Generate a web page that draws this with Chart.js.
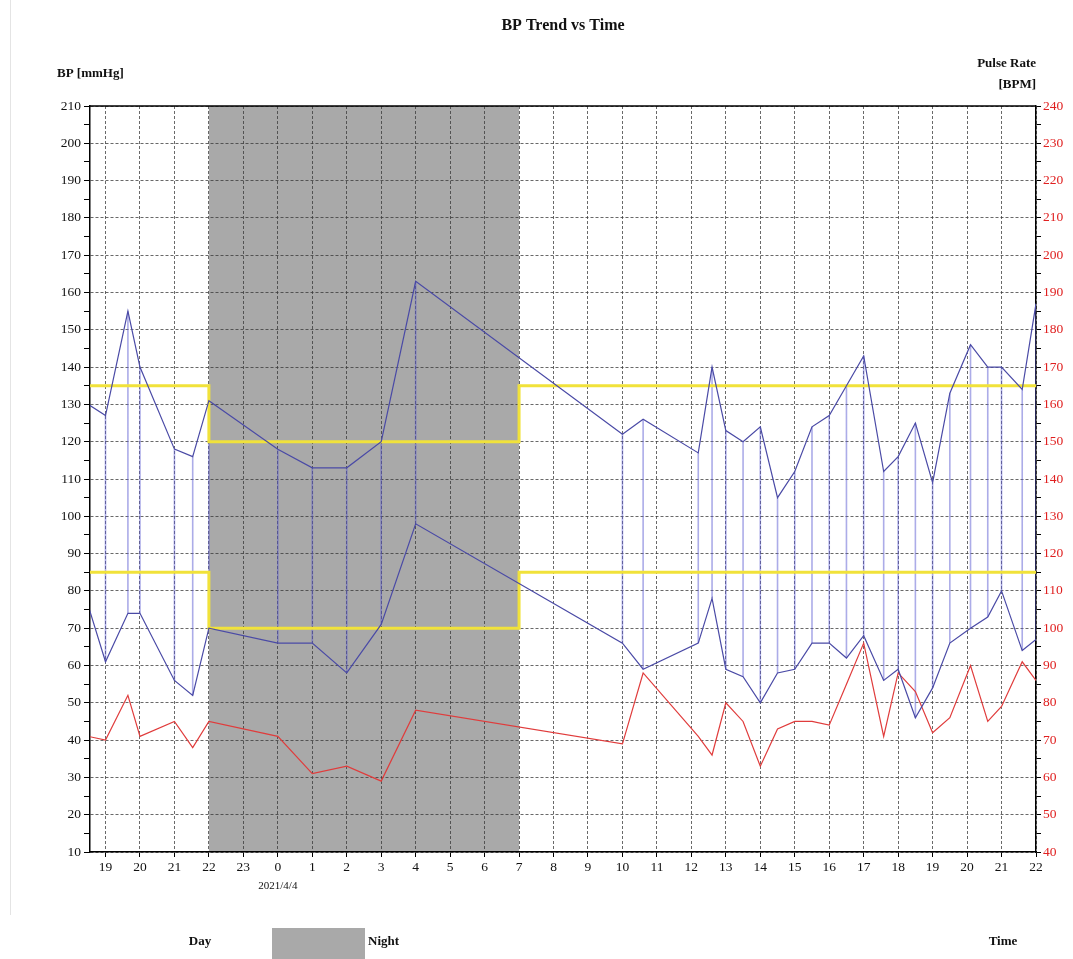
<!DOCTYPE html>
<html>
<head>
<meta charset="utf-8">
<title>BP Trend vs Time</title>
<script src="https://cdn.jsdelivr.net/npm/chart.js@4.4.1/dist/chart.umd.min.js"></script>
<style>
body { margin: 0; background: #fff; }
#wrap { position: relative; width: 1073px; height: 959px; }
#edge { position: absolute; left: 10px; top: 0; height: 915px; border-left: 1px solid #e4e4e4; }
</style>
</head>
<body>
<div id="wrap">
<div id="edge"></div>
<canvas id="bpChart" width="1073" height="959"></canvas>
</div>
<script>
// measurement times in hours from midnight of the first day (24 = 0:00 of 2021/4/4)
const times     = [18.5, 19, 19.65, 20, 21, 21.53, 22, 24, 25, 26, 27, 28, 34, 34.6, 36.2, 36.6, 37, 37.5, 38, 38.5, 39, 39.5, 40, 40.5, 41, 41.58, 42, 42.5, 43, 43.5, 44.1, 44.6, 45, 45.6, 46];
const systolic  = [130, 127, 155, 140, 118, 116, 131, 118, 113, 113, 120, 163, 122, 126, 117, 140, 123, 120, 124, 105, 112, 124, 127, 135, 143, 112, 116, 125, 109, 133, 146, 140, 140, 134, 157];
const diastolic = [76, 61, 74, 74, 56, 52, 70, 66, 66, 58, 71, 98, 66, 59, 66, 78, 59, 57, 50, 58, 59, 66, 66, 62, 68, 56, 59, 46, 54, 66, 70, 73, 80, 64, 67];
const pulse     = [71, 70, 82, 71, 75, 68, 75, 71, 61, 63, 59, 78, 69, 88, 71, 66, 80, 75, 63, 73, 75, 75, 74, 85, 96, 71, 88, 83, 72, 76, 90, 75, 79, 91, 86];

// target limits: day 135/85, night 120/70
const limitTimes = [18.5, 22, 22, 31, 31, 46];
const limitHigh  = [135, 135, 120, 120, 135, 135];
const limitLow   = [85, 85, 70, 70, 85, 85];
const nightStart = 22;
const nightEnd = 31;

const hourTicks = [19, 20, 21, 22, 23, 24, 25, 26, 27, 28, 29, 30, 31, 32, 33, 34, 35, 36, 37, 38, 39, 40, 41, 42, 43, 44, 45, 46];

const serif = '"Liberation Serif", "Times New Roman", serif';
const gridColor = 'rgba(55,55,55,0.75)';
const blue = '#4a4aa6';

const pts = (ys) => times.map((t, i) => ({ x: t, y: ys[i] }));
const limitPts = (ys) => limitTimes.map((t, i) => ({ x: t, y: ys[i] }));

// vertical bars joining each systolic / diastolic pair
const connectors = [];
times.forEach((t, i) => {
	connectors.push({ x: t, y: diastolic[i] }, { x: t, y: systolic[i] }, { x: t, y: null });
});

const nightBand = {
	id: 'nightBand',
	beforeDraw(chart) {
		const { ctx, chartArea, scales } = chart;
		const x0 = scales.x.getPixelForValue(nightStart);
		const x1 = scales.x.getPixelForValue(nightEnd);
		ctx.save();
		ctx.fillStyle = '#a9a9a9';
		ctx.fillRect(x0, chartArea.top, x1 - x0, chartArea.bottom - chartArea.top);
		ctx.restore();
	},
	afterDraw(chart) {
		const { ctx, chartArea, scales } = chart;
		ctx.save();
		ctx.strokeStyle = '#000';
		ctx.lineWidth = 1.5;
		ctx.beginPath();
		ctx.moveTo(chartArea.left, chartArea.top);
		ctx.lineTo(chartArea.right, chartArea.top);
		ctx.stroke();

		ctx.fillStyle = '#111';
		ctx.textBaseline = 'middle';
		ctx.font = 'bold 16px ' + serif;
		ctx.textAlign = 'center';
		ctx.fillText('BP Trend vs Time', (chartArea.left + chartArea.right) / 2, 26);

		ctx.font = 'bold 13px ' + serif;
		ctx.textAlign = 'left';
		ctx.fillText('BP [mmHg]', 57, 74);
		ctx.textAlign = 'right';
		ctx.fillText('Pulse Rate', 1036, 64);
		ctx.fillText('[BPM]', 1036, 85);

		ctx.font = '11px ' + serif;
		ctx.textAlign = 'center';
		ctx.fillText('2021/4/4', scales.x.getPixelForValue(24), 886);

		// legend
		ctx.font = 'bold 13px ' + serif;
		ctx.textAlign = 'center';
		ctx.fillText('Day', 200, 942);
		ctx.fillText('Time', 1003, 942);
		ctx.textAlign = 'left';
		ctx.fillText('Night', 368, 942);
		ctx.fillStyle = '#a9a9a9';
		ctx.fillRect(272, 928, 93, 31);
		ctx.restore();
	}
};

const ctx = document.getElementById('bpChart').getContext('2d');

new Chart(ctx, {
	type: 'line',
	data: {
		datasets: [
			{
				label: 'Systolic',
				data: pts(systolic),
				borderColor: blue,
				borderWidth: 1.2,
				pointRadius: 0,
				yAxisID: 'y',
				order: 1
			},
			{
				label: 'Diastolic',
				data: pts(diastolic),
				borderColor: blue,
				borderWidth: 1.2,
				pointRadius: 0,
				yAxisID: 'y',
				order: 1
			},
			{
				label: 'Pulse',
				data: pts(pulse),
				borderColor: '#e03c3c',
				borderWidth: 1.2,
				pointRadius: 0,
				yAxisID: 'y1',
				order: 2
			},
			{
				label: 'Limit high',
				data: limitPts(limitHigh),
				borderColor: '#f1e23a',
				borderWidth: 3,
				pointRadius: 0,
				yAxisID: 'y',
				order: 3
			},
			{
				label: 'Limit low',
				data: limitPts(limitLow),
				borderColor: '#f1e23a',
				borderWidth: 3,
				pointRadius: 0,
				yAxisID: 'y',
				order: 3
			},
			{
				label: 'Range',
				data: connectors,
				borderColor: 'rgba(90,90,210,0.5)',
				borderWidth: 1.6,
				pointRadius: 0,
				spanGaps: false,
				yAxisID: 'y',
				order: 4
			}
		]
	},
	options: {
		responsive: false,
		animation: false,
		layout: { padding: { top: 106, left: 0, right: 0, bottom: 67 } },
		plugins: {
			legend: { display: false },
			title: { display: false },
			tooltip: { enabled: false }
		},
		scales: {
			x: {
				type: 'linear',
				min: 18.55,
				max: 46,
				afterBuildTicks: (axis) => { axis.ticks = hourTicks.map(v => ({ value: v })); },
				afterFit: (axis) => { axis.height = 40; },
				ticks: {
					autoSkip: false,
					maxRotation: 0,
					color: '#111',
					padding: 2,
					font: { family: serif, size: 13.5 },
					callback: (v) => String(v % 24)
				},
				grid: { color: gridColor, tickColor: '#000', tickLength: 5 },
				border: { color: '#000', width: 1.5, dash: [3, 2] }
			},
			y: {
				position: 'left',
				min: 10,
				max: 210,
				afterFit: (axis) => { axis.width = 90; },
				ticks: {
					stepSize: 5,
					autoSkip: false,
					color: '#111',
					padding: 3,
					font: { family: serif, size: 13.5 },
					callback: (v) => (v % 10 === 0 ? v : '')
				},
				grid: {
					color: (c) => (c.tick && c.tick.value % 10 === 0 ? gridColor : 'rgba(0,0,0,0)'),
					tickColor: '#000',
					tickLength: 6
				},
				border: { color: '#000', width: 1.5, dash: [3, 2] }
			},
			y1: {
				position: 'right',
				min: 40,
				max: 240,
				afterFit: (axis) => { axis.width = 37; },
				ticks: {
					stepSize: 5,
					autoSkip: false,
					color: '#e02020',
					padding: 2,
					font: { family: serif, size: 13.5 },
					callback: (v) => (v % 10 === 0 ? v : '')
				},
				grid: { drawOnChartArea: false, tickColor: '#000', tickLength: 5 },
				border: { color: '#000', width: 1.5 }
			}
		}
	},
	plugins: [nightBand]
});
</script>
</body>
</html>
